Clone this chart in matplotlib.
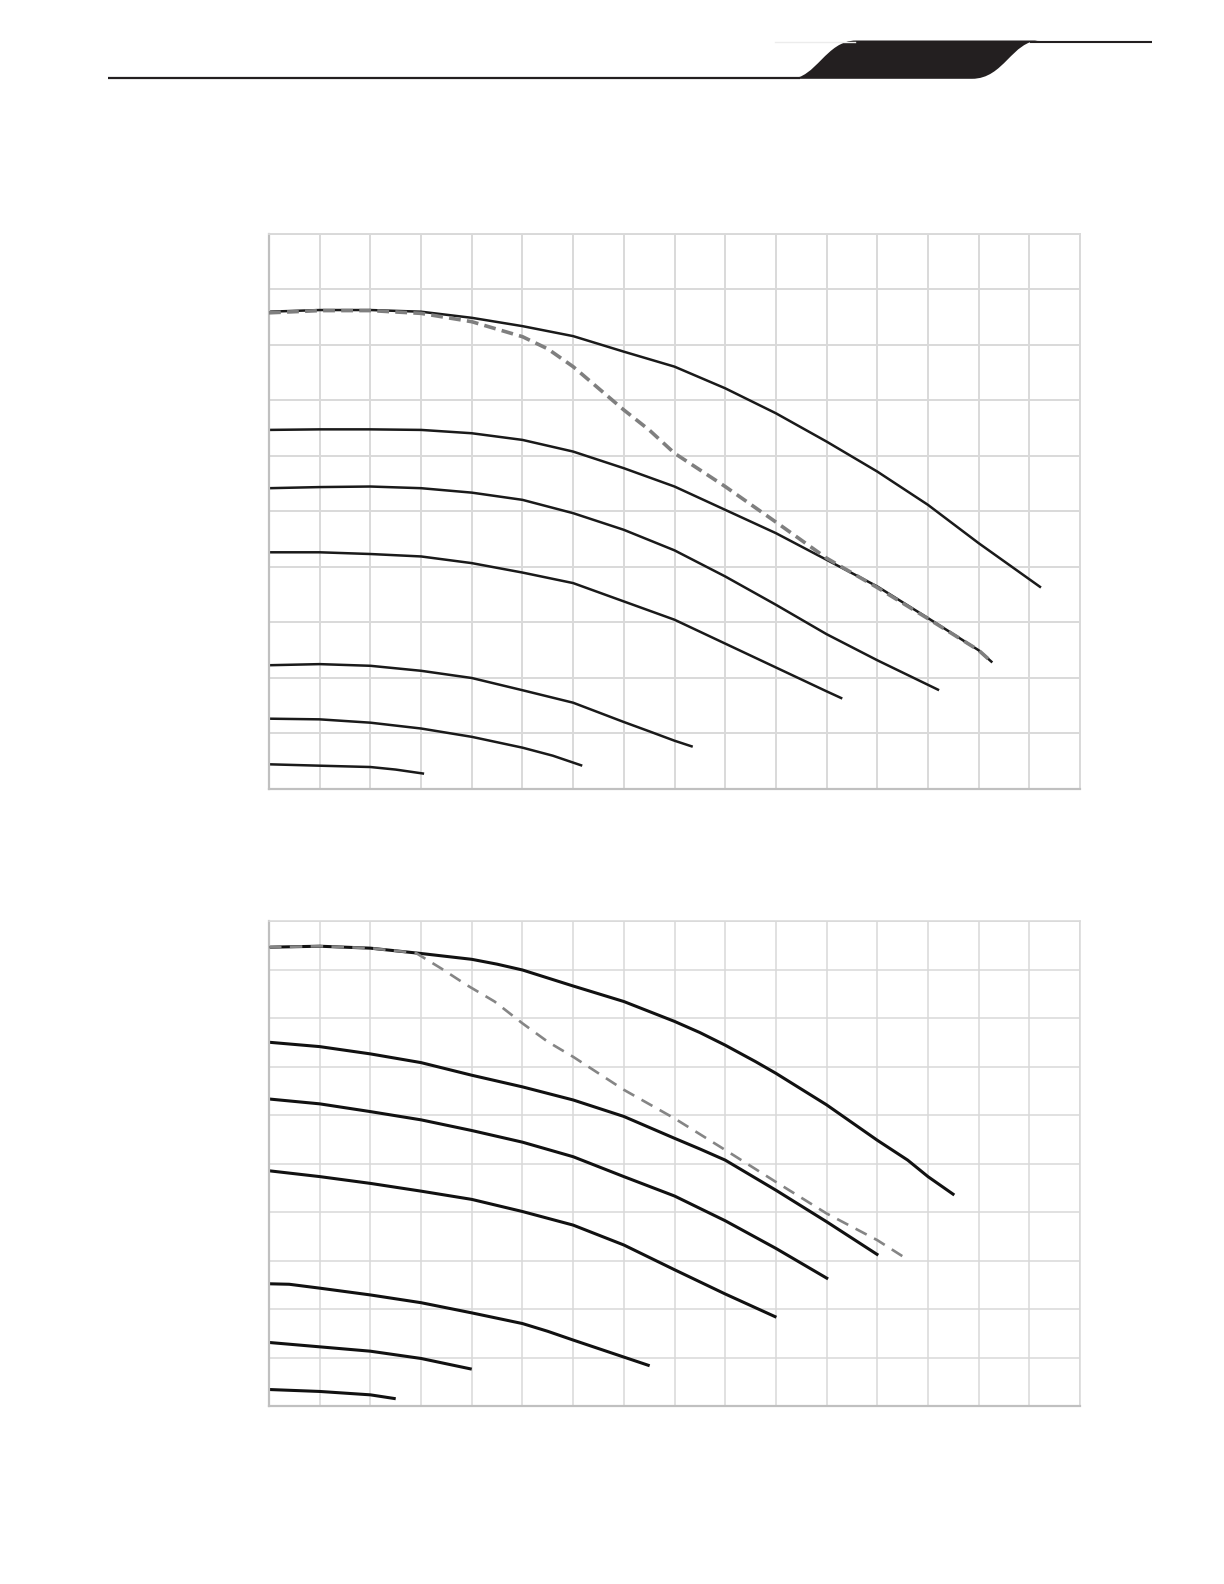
import matplotlib
matplotlib.use("Agg")
import matplotlib.pyplot as plt
from matplotlib.path import Path
from matplotlib.patches import PathPatch

plt.rcParams['lines.scale_dashes'] = False
plt.rcParams['lines.solid_joinstyle'] = 'round'
plt.rcParams['lines.dash_joinstyle'] = 'round'

# ---- upper chart (grid units: 16 x 10) ----
top_a_x = [0, 1, 2, 2.5, 3.06]
top_a_y = [0.445, 0.42, 0.396, 0.35, 0.276]
top_b_x = [0, 1, 2, 3, 4, 5, 5.6, 6.18]
top_b_y = [1.267, 1.255, 1.195, 1.09, 0.94, 0.745, 0.60, 0.42]
top_c_x = [0, 1, 2, 3, 4, 5, 6, 7, 7.5, 8, 8.36]
top_c_y = [2.23, 2.25, 2.22, 2.13, 2.0, 1.78, 1.555, 1.207, 1.04, 0.87, 0.762]
top_d_x = [0, 1, 2, 3, 4, 5, 6, 7, 8, 9, 10, 11, 11.31]
top_d_y = [4.265, 4.265, 4.234, 4.19, 4.07, 3.90, 3.71, 3.38, 3.05, 2.62, 2.19, 1.76, 1.63]
top_e_x = [0, 1, 2, 3, 4, 5, 6, 7, 8, 9, 10, 11, 12, 13.22]
top_e_y = [5.42, 5.44, 5.45, 5.42, 5.34, 5.21, 4.97, 4.67, 4.30, 3.83, 3.32, 2.79, 2.32, 1.78]
top_f_x = [0, 1, 2, 3, 4, 5, 6, 7, 8, 9, 10, 11, 12, 13, 14, 14.27]
top_f_y = [6.47, 6.48, 6.48, 6.47, 6.41, 6.29, 6.08, 5.78, 5.45, 5.03, 4.61, 4.13, 3.65, 3.08, 2.50, 2.28]
top_g_x = [0, 1, 2, 3, 4, 5, 6, 7, 8, 9, 10, 11, 12, 13, 14, 15.23]
top_g_y = [8.60, 8.63, 8.63, 8.60, 8.49, 8.34, 8.16, 7.88, 7.61, 7.22, 6.77, 6.26, 5.72, 5.12, 4.43, 3.63]
top_dash_x = [0, 1, 2, 3, 4, 5, 5.5, 6, 6.5, 7, 7.5, 8, 9, 10, 11, 12, 13, 14, 14.27]
top_dash_y = [8.58, 8.62, 8.62, 8.57, 8.42, 8.15, 7.93, 7.61, 7.22, 6.83, 6.47, 6.05, 5.45, 4.81,
              4.16, 3.63, 3.07, 2.50, 2.28]

# ---- lower chart (grid units: 16 x 10) ----
bot_a_x = [0, 1, 2, 2.5]
bot_a_y = [0.34, 0.30, 0.23, 0.15]
bot_b_x = [0, 1, 2, 3, 4]
bot_b_y = [1.31, 1.22, 1.13, 0.98, 0.76]
bot_c_x = [0, 0.4, 1, 2, 3, 4, 5, 5.5, 6, 7.51]
bot_c_y = [2.52, 2.51, 2.43, 2.29, 2.13, 1.92, 1.70, 1.54, 1.36, 0.83]
bot_d_x = [0, 1, 2, 3, 4, 5, 6, 7, 8, 9, 10.01]
bot_d_y = [4.85, 4.73, 4.59, 4.43, 4.26, 4.01, 3.73, 3.32, 2.81, 2.31, 1.83]
bot_e_x = [0, 1, 2, 3, 4, 5, 6, 7, 8, 9, 10, 11.03]
bot_e_y = [6.33, 6.23, 6.07, 5.90, 5.68, 5.44, 5.14, 4.73, 4.33, 3.82, 3.25, 2.62]
bot_f_x = [0, 1, 2, 3, 4, 5, 6, 7, 8, 8.5, 9, 9.5, 10, 11, 12.02]
bot_f_y = [7.50, 7.41, 7.26, 7.08, 6.82, 6.58, 6.31, 5.97, 5.52, 5.30, 5.07, 4.76, 4.45, 3.80, 3.11]
bot_g_x = [0, 1, 2, 3, 4, 4.5, 5, 6, 7, 8, 8.5, 9, 9.6, 10, 11, 12, 12.6, 13, 13.52]
bot_g_y = [9.46, 9.48, 9.44, 9.33, 9.21, 9.11, 8.99, 8.66, 8.34, 7.93, 7.70, 7.44, 7.10, 6.86,
           6.21, 5.48, 5.07, 4.73, 4.35]
bot_dash_x = [0, 1, 2, 2.9, 3.4, 3.9, 4.45, 5, 5.5, 6, 6.5, 7, 8, 9, 10, 11, 12, 12.51]
bot_dash_y = [9.46, 9.48, 9.44, 9.34, 9.02, 8.68, 8.34, 7.89, 7.51, 7.20, 6.86, 6.52, 5.93, 5.28,
              4.62, 3.97, 3.42, 3.08]

W, H = 1224, 1584
fig = plt.figure(figsize=(W / 100, H / 100), dpi=100)

# header decoration, drawn in page pixels
bg = fig.add_axes([0, 0, 1, 1], zorder=0)
bg.set_xlim(0, W)
bg.set_ylim(H, 0)
bg.axis('off')
bg.plot([108, 800], [77.5, 77.5], color='#231f20', lw=1.6, solid_capstyle='butt')
bg.plot([775, 855], [41.5, 41.5], color='#ececec', lw=1.0)
bg.plot([1030, 1152], [41.5, 41.5], color='#231f20', lw=1.5, solid_capstyle='butt')
verts = [(790, 78.8), (816, 78.8), (826, 40.5), (856, 40.5),
         (1040, 40.5),
         (1012, 40.5), (1004, 78.8), (972, 78.8),
         (790, 78.8)]
codes = [Path.MOVETO, Path.CURVE4, Path.CURVE4, Path.CURVE4,
         Path.LINETO,
         Path.CURVE4, Path.CURVE4, Path.CURVE4,
         Path.CLOSEPOLY]
bg.add_patch(PathPatch(Path(verts, codes), facecolor='#231f20', edgecolor='none'))


def setup(ax, grid_lw):
    ax.set_xlim(0, 16)
    ax.set_ylim(0, 10)
    ax.set_xticks(range(17))
    ax.set_yticks(range(11))
    ax.tick_params(length=0, labelbottom=False, labelleft=False)
    ax.grid(True, color='#d9d9d9', lw=grid_lw)
    ax.set_axisbelow(True)
    for s in ('top', 'right'):
        ax.spines[s].set_color('#d9d9d9')
        ax.spines[s].set_linewidth(grid_lw)
    for s in ('left', 'bottom'):
        ax.spines[s].set_color('#c0c0c0')
        ax.spines[s].set_linewidth(1.6)


ax1 = fig.add_axes([269 / W, 1 - 789 / H, 811 / W, 555 / H], zorder=1)
setup(ax1, 1.4)
for xs, ys in [(top_a_x, top_a_y), (top_b_x, top_b_y), (top_c_x, top_c_y), (top_d_x, top_d_y),
               (top_e_x, top_e_y), (top_f_x, top_f_y), (top_g_x, top_g_y)]:
    ax1.plot(xs, ys, color='#1a1a1a', lw=1.8, solid_capstyle='butt', clip_on=False)
ax1.plot(top_dash_x, top_dash_y, color='#7f7f7f', lw=2.6, dashes=(8.5, 4.5), zorder=3,
         clip_on=False)

ax2 = fig.add_axes([269 / W, 1 - 1406 / H, 811 / W, 485 / H], zorder=1)
setup(ax2, 1.1)
for xs, ys in [(bot_a_x, bot_a_y), (bot_b_x, bot_b_y), (bot_c_x, bot_c_y), (bot_d_x, bot_d_y),
               (bot_e_x, bot_e_y), (bot_f_x, bot_f_y), (bot_g_x, bot_g_y)]:
    ax2.plot(xs, ys, color='#111111', lw=2.2, solid_capstyle='butt', clip_on=False)
ax2.plot(bot_dash_x, bot_dash_y, color='#858585', lw=1.9, dashes=(9.0, 6.0), zorder=3,
         clip_on=False)

fig.savefig('out.png', dpi=100)
